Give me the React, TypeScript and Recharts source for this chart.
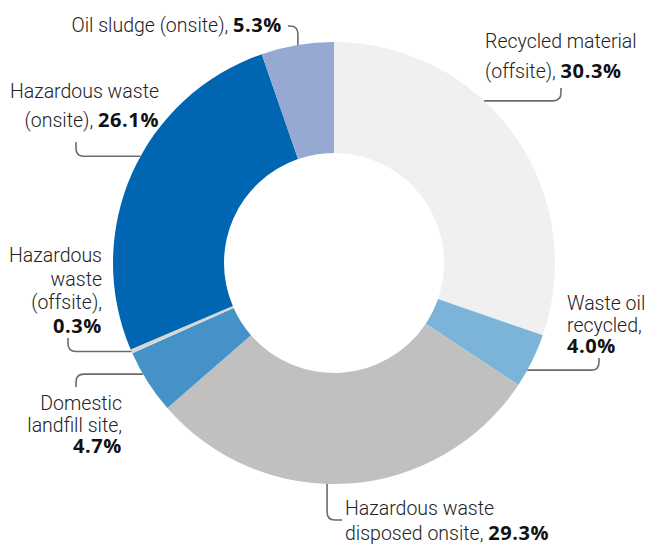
import React from 'react';
import { PieChart, Pie, Cell } from 'recharts';

// waste breakdown, share of total (%)
const categories = [
  'Recycled material (offsite)',
  'Waste oil recycled',
  'Hazardous waste disposed onsite',
  'Domestic landfill site',
  'Hazardous waste (offsite)',
  'Hazardous waste (onsite)',
  'Oil sludge (onsite)',
];
const shares = [30.3, 4.0, 29.3, 4.7, 0.3, 26.1, 5.3];
const colors = ['#f0f0f0', '#7bb3d9', '#c0c0c0', '#4592c9', '#d6d6d6', '#0066b2', '#95a9d2'];
const labelLines = [
  ['Recycled material', '(offsite), '],
  ['Waste oil', 'recycled,'],
  ['Hazardous waste', 'disposed onsite, '],
  ['Domestic', 'landfill site,'],
  ['Hazardous', 'waste', '(offsite),'],
  ['Hazardous waste', '(onsite), '],
  ['Oil sludge (onsite), '],
];

const data = categories.map((name, i) => ({ name, value: shares[i], lines: labelLines[i] }));

// label placement relative to the pie centre: anchor angle on the rim, elbow direction,
// leader end point, text position, line height, whether the % sits on its own line
const labelLayout = [
  { ang: 47.2, hFirst: true, ex: 227, ey: -175, tx: 151, ty: -215, anchor: 'start', lh: 30, own: false },
  { ang: -29, hFirst: true, ex: 265, ey: 95, tx: 233, ty: 47, anchor: 'start', lh: 21.5, own: true },
  { ang: -91.8, hFirst: false, ex: 8, ey: 257, tx: 11, ty: 252, anchor: 'start', lh: 25, own: false },
  { ang: 210.2, hFirst: true, ex: -258, ey: 124, tx: -212, ty: 147, anchor: 'end', lh: 21.5, own: true },
  { ang: 203.6, hFirst: true, ex: -266, ey: 75, tx: -232, ty: -1, anchor: 'end', lh: 23.5, own: true },
  { ang: 151.1, hFirst: true, ex: -258, ey: -121, tx: -175, ty: -165, anchor: 'end', lh: 29, own: false },
  { ang: 99.4, hFirst: false, ex: -46, ey: -237, tx: -52, ty: -231, anchor: 'end', lh: 28, own: false },
];

const RAD = Math.PI / 180;

const leaderPath = (ax: number, ay: number, cxp: number, cyp: number, ex: number, ey: number, r: number) => {
  const d1x = Math.sign(cxp - ax), d1y = Math.sign(cyp - ay);
  const d2x = Math.sign(ex - cxp), d2y = Math.sign(ey - cyp);
  return `M${ax},${ay} L${cxp - d1x * r},${cyp - d1y * r} Q${cxp},${cyp} ${cxp + d2x * r},${cyp + d2y * r} L${ex},${ey}`;
};

const boldProps = { fontWeight: 700, fill: '#111', fontFamily: "'Open Sans', Roboto, sans-serif", fontSize: 20, letterSpacing: 0.6 };

const renderLabel = (props: any) => {
  const { cx, cy, outerRadius, index } = props;
  const lay = labelLayout[index];
  const item = data[index];
  const ax = cx + outerRadius * Math.cos(lay.ang * RAD);
  const ay = cy - outerRadius * Math.sin(lay.ang * RAD);
  const ex = cx + lay.ex;
  const ey = cy + lay.ey;
  const cxp = lay.hFirst ? ex : ax;
  const cyp = lay.hFirst ? ay : ey;
  const tx = cx + lay.tx;
  const ty = cy + lay.ty;
  const pct = `${item.value.toFixed(1)}%`;
  const lines = item.lines;
  return (
    <g key={`lbl-${index}`}>
      <path d={leaderPath(ax, ay, cxp, cyp, ex, ey, 8)} fill="none" stroke="#6b6b6b" strokeWidth={1.6} />
      <text x={tx} y={ty} textAnchor={lay.anchor} fill="#222" fontSize={19.5} fontWeight={300}
        fontFamily="Roboto, sans-serif">
        {lines.map((ln, k) => (
          <tspan key={k} x={tx} dy={k === 0 ? 0 : lay.lh}>
            {ln}
            {!lay.own && k === lines.length - 1 && <tspan {...boldProps}>{pct}</tspan>}
          </tspan>
        ))}
        {lay.own && <tspan x={tx} dy={lay.lh} {...boldProps}>{pct}</tspan>}
      </text>
    </g>
  );
};

export default function App() {
  return (
    <div style={{ position: 'absolute', left: 0, top: 0, background: '#fff' }}>
      <PieChart width={648} height={546} margin={{ top: 0, right: 0, bottom: 0, left: 0 }}>
        <Pie
          data={data}
          dataKey="value"
          nameKey="name"
          cx={334}
          cy={263}
          innerRadius={110}
          outerRadius={221}
          startAngle={90}
          endAngle={-270}
          stroke="none"
          isAnimationActive={false}
          labelLine={false}
          label={renderLabel}
        >
          {data.map((entry, i) => (
            <Cell key={`cell-${entry.name}`} fill={colors[i]} />
          ))}
        </Pie>
      </PieChart>
    </div>
  );
}
